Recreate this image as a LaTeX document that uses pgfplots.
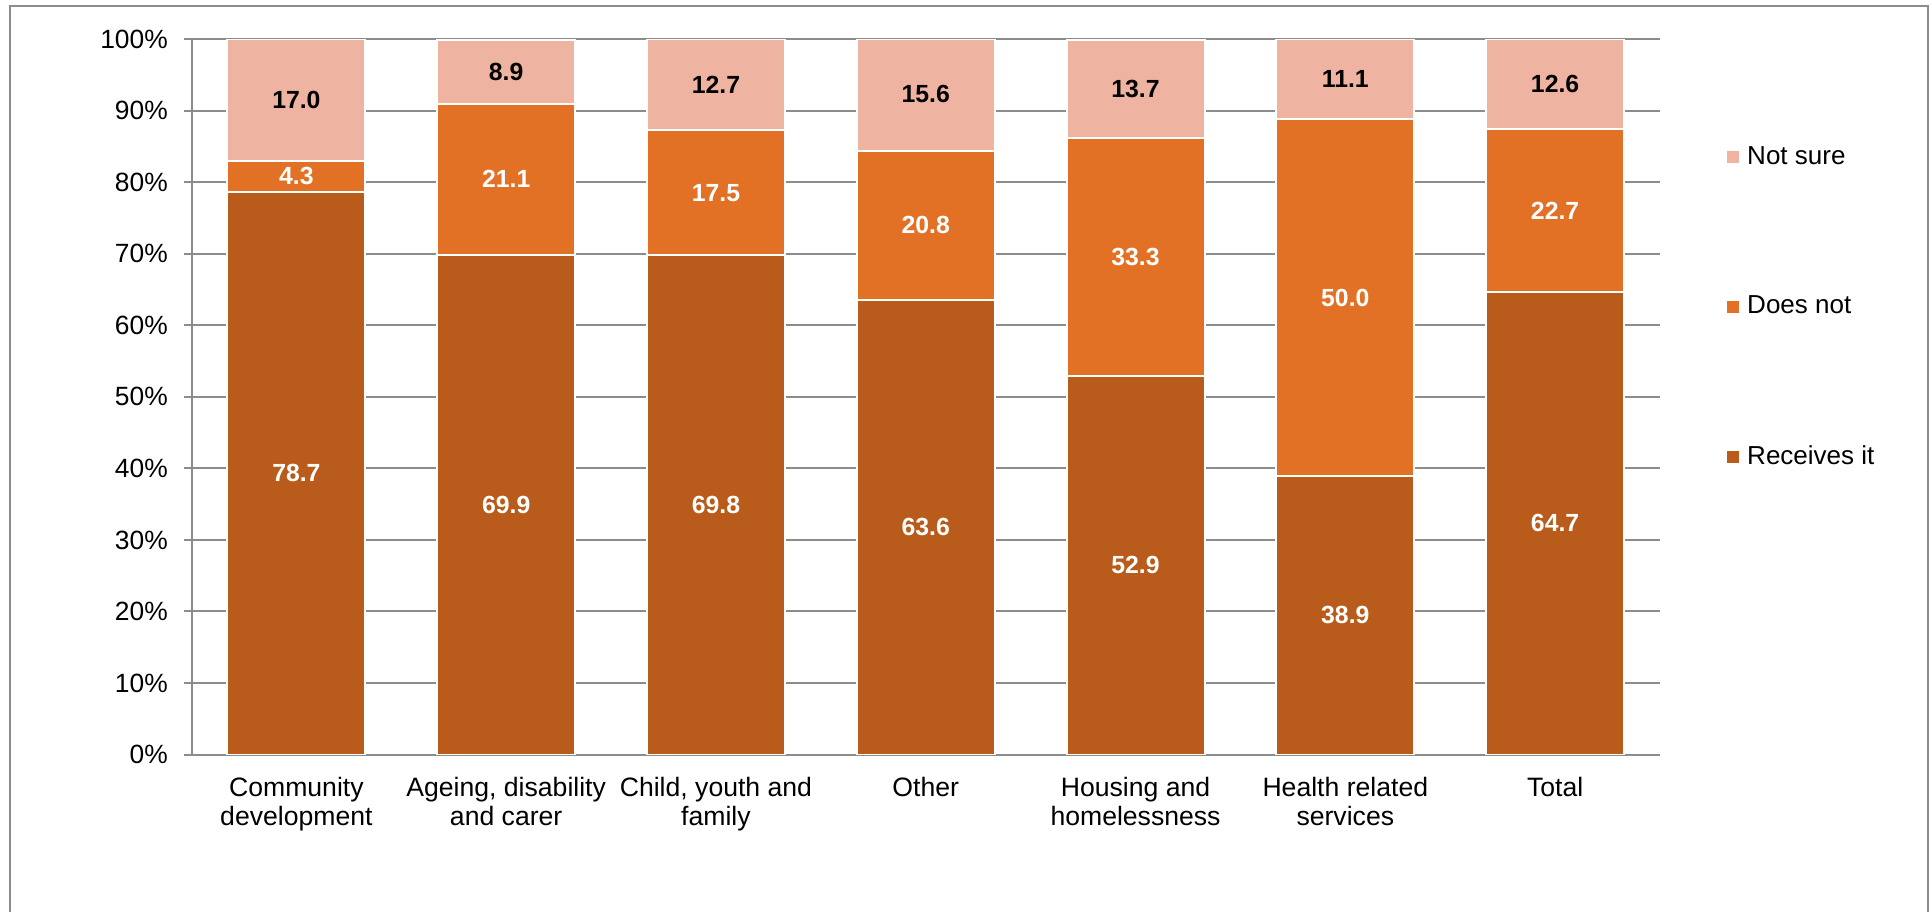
\documentclass[border=0pt]{standalone}
\usepackage{pgfplots}
\pgfplotsset{compat=1.18}
\usepackage{fontspec}
\setmainfont{Liberation Sans}
\definecolor{recv}{RGB}{185,92,27}
\definecolor{doesnot}{RGB}{226,113,37}
\definecolor{notsure}{RGB}{238,180,161}
\definecolor{axgray}{RGB}{140,140,140}
\begin{document}
\begin{tikzpicture}
\useasboundingbox (0,0) rectangle (966pt,455.5pt);
\draw[axgray, line width=1pt] (5pt,-5pt) -- (5pt,452.5pt) -- (964pt,452.5pt) -- (964pt,-5pt);
\pgfplotsset{
  common/.style={
    scale only axis,
    width=734.25pt, height=357.6pt,
    at={(95.75pt,78.25pt)}, anchor=south west,
    xmin=-0.5, xmax=6.5, ymin=0, ymax=100,
  }
}
\begin{axis}[
  common,
  ybar stacked,
  bar width=0.658,
  axis x line*=bottom, axis y line*=left,
  axis line style={axgray, line width=1pt},
  ymajorgrids, grid style={axgray, line width=1pt},
  ytick={0,10,...,100},
  yticklabel={\pgfmathprintnumber{\tick}\%},
  /pgf/number format/assume math mode=true,
  tick align=outside,
  major tick length=4pt, minor tick length=4pt,
  tick style={axgray, line width=1pt},
  xtick={0,...,6},
  xtick style={draw=none},
  minor xtick={-0.5,0.5,...,6.5},
  xticklabels={Community\\development, {Ageing, disability\\and carer}, {Child, youth and\\family}, Other, Housing and\\homelessness, Health related\\services, Total},
  xticklabel style={align=center, font=\fontsize{13.3}{14.8}\selectfont, yshift=-3.6pt},
  yticklabel style={font=\fontsize{13.2}{15}\selectfont, xshift=-4.3pt},
  legend style={at={(1.0455,0.6257)}, anchor=west, draw=none, inner sep=0pt,
    font=\fontsize{13}{15}\selectfont, row sep=61.5pt,
    nodes={inner sep=1.5pt}, cells={anchor=west},
    /tikz/every odd column/.append style={column sep=2.5pt}},
  legend image code/.code={\fill[#1,draw=none] (0pt,-3pt) rectangle (6pt,3pt);},
  reverse legend,
]
\addplot[fill=recv, draw=white, line width=1pt] coordinates {(0,78.7) (1,69.9) (2,69.8) (3,63.6) (4,52.9) (5,38.9) (6,64.7)};
\addplot[fill=doesnot, draw=white, line width=1pt] coordinates {(0,4.3) (1,21.1) (2,17.5) (3,20.8) (4,33.3) (5,50.0) (6,22.7)};
\addplot[fill=notsure, draw=white, line width=1pt] coordinates {(0,17.0) (1,8.9) (2,12.7) (3,15.6) (4,13.7) (5,11.1) (6,12.6)};
\legend{Receives it, Does not, Not sure}
\end{axis}
\begin{axis}[
  common, hide axis,
  nodes near coords, point meta=explicit symbolic,
  every node near coord/.append style={anchor=center, font=\fontsize{12.4}{14}\selectfont\bfseries},
]
\addplot[draw=none, mark=none, nodes near coords style={text=white}] coordinates {(0,39.35)[78.7] (1,34.95)[69.9] (2,34.9)[69.8] (3,31.8)[63.6] (4,26.45)[52.9] (5,19.45)[38.9] (6,32.35)[64.7]};
\addplot[draw=none, mark=none, nodes near coords style={text=white}] coordinates {(0,80.85)[4.3] (1,80.45)[21.1] (2,78.55)[17.5] (3,74.0)[20.8] (4,69.55)[33.3] (5,63.9)[50.0] (6,76.05)[22.7]};
\addplot[draw=none, mark=none, nodes near coords style={text=black}] coordinates {(0,91.5)[17.0] (1,95.45)[8.9] (2,93.65)[12.7] (3,92.3)[15.6] (4,93.05)[13.7] (5,94.45)[11.1] (6,93.7)[12.6]};
\end{axis}
\end{tikzpicture}
\end{document}
